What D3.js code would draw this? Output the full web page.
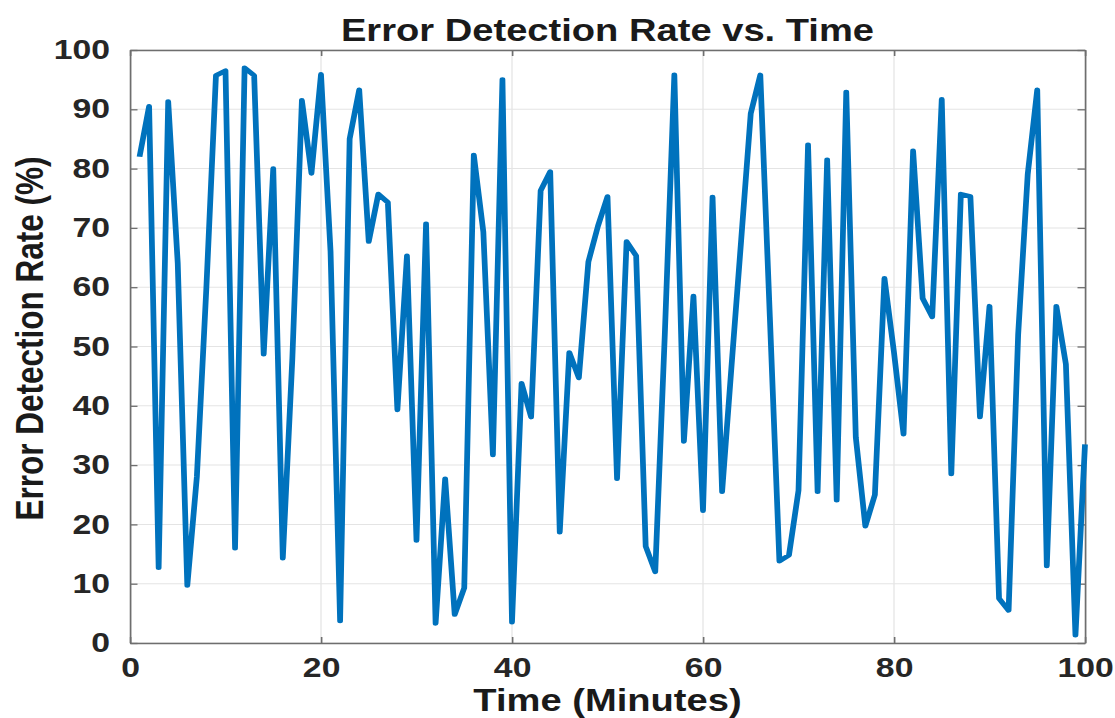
<!DOCTYPE html>
<html>
<head>
<meta charset="utf-8">
<script src="https://cdn.jsdelivr.net/npm/d3@7"></script>
<style>
  body { margin: 0; background: #fff; }
  svg { display: block; }
  text { font-family: "Liberation Sans", Arial, sans-serif; font-weight: bold; }
</style>
</head>
<body>
<div id="chart"></div>
<script>
// x values (minutes)
const minutes = [
  1, 2, 3, 4, 5, 6, 7, 8, 9, 10, 11, 12, 13, 14, 15, 16, 17, 18, 19, 20,
  21, 22, 23, 24, 25, 26, 27, 28, 29, 30, 31, 32, 33, 34, 35, 36, 37, 38, 39, 40,
  41, 42, 43, 44, 45, 46, 47, 48, 49, 50, 51, 52, 53, 54, 55, 56, 57, 58, 59, 60,
  61, 62, 63, 64, 65, 66, 67, 68, 69, 70, 71, 72, 73, 74, 75, 76, 77, 78, 79, 80,
  81, 82, 83, 84, 85, 86, 87, 88, 89, 90, 91, 92, 93, 94, 95, 96, 97, 98, 99, 100
];
// error detection rate (%)
const detectionRate = [
  82, 90.5, 12.7, 91.3, 64, 9.7, 28, 60, 95.7, 96.5,
  16, 97, 95.7, 48.7, 80, 14.3, 48, 91.5, 79.2, 95.9,
  66, 3.7, 85, 93.3, 67.7, 75.7, 74.3, 39.3, 65.3, 17.3,
  70.7, 3.3, 27.7, 4.8, 9.3, 82.3, 69.3, 31.7, 95, 3.5,
  43.8, 38.1, 76.3, 79.5, 18.7, 49, 44.7, 64.3, 70.3, 75.3,
  27.7, 67.7, 65.3, 16.3, 12, 52, 95.8, 34, 58.5, 22.3,
  75.2, 25.5, 47, 68, 89.3, 95.8, 55, 13.8, 14.8, 25.7,
  84, 25.5, 81.5, 24.1, 92.9, 34.7, 19.7, 25, 61.5, 49,
  35.2, 83, 58.1, 55, 91.7, 28.5, 75.7, 75.3, 38.1, 56.8,
  7.5, 5.5, 52, 79, 93.3, 13, 56.8, 47, 1.3, 33.5
];
const xTicks = [0, 20, 40, 60, 80, 100];
const yTicks = [0, 10, 20, 30, 40, 50, 60, 70, 80, 90, 100];

// the reference is stretched sideways, so draw in a narrower box and stretch it
const stretch = 1.25;
const W = 1115 / stretch, H = 718;
const margin = {top: 50, right: 24, bottom: 75, left: 104};
const width = W - margin.left - margin.right;
const height = H - margin.top - margin.bottom;

const svg = d3.select("#chart")
  .append("svg")
  .attr("width", 1115)
  .attr("height", 718)
  .attr("viewBox", "0 0 " + W + " " + H)
  .attr("preserveAspectRatio", "none");

const g = svg.append("g")
  .attr("transform", "translate(" + margin.left + "," + margin.top + ")");

const x = d3.scaleLinear().domain([0, 100]).range([0, width]);
const y = d3.scaleLinear().domain([0, 100]).range([height, 0]);

// grid
g.append("g")
  .selectAll("line")
  .data(yTicks)
  .enter().append("line")
  .attr("x1", 0).attr("x2", width)
  .attr("y1", d => y(d)).attr("y2", d => y(d))
  .attr("stroke", "#e4e4e4").attr("stroke-width", 1);
g.append("g")
  .selectAll("line")
  .data(xTicks)
  .enter().append("line")
  .attr("y1", 0).attr("y2", height)
  .attr("x1", d => x(d)).attr("x2", d => x(d))
  .attr("stroke", "#e4e4e4").attr("stroke-width", 1);

// axes, ticks pointing inwards like MATLAB
const tickLen = 6;
const axisColor = "#6e6e6e";
const labelColor = "#262626";

function styleAxis(sel) {
  sel.select(".domain").attr("stroke", axisColor).attr("stroke-width", 1.3);
  sel.selectAll(".tick line").attr("stroke", axisColor).attr("stroke-width", 1.3);
  sel.selectAll("text")
    .attr("fill", labelColor)
    .style("font-size", "27px")
    .style("font-family", "\"Liberation Sans\", Arial, sans-serif")
    .style("font-weight", "bold");
}

g.append("g")
  .attr("transform", "translate(0," + height + ")")
  .call(d3.axisBottom(x).tickValues(xTicks).tickSizeInner(-tickLen).tickSizeOuter(0).tickPadding(15))
  .call(styleAxis);
g.append("g")
  .call(d3.axisTop(x).tickValues(xTicks).tickSizeInner(-tickLen).tickSizeOuter(0).tickFormat(""))
  .call(styleAxis);
g.append("g")
  .call(d3.axisLeft(y).tickValues(yTicks).tickSizeInner(-tickLen).tickSizeOuter(0).tickPadding(16))
  .call(styleAxis);
g.append("g")
  .attr("transform", "translate(" + width + ",0)")
  .call(d3.axisRight(y).tickValues(yTicks).tickSizeInner(-tickLen).tickSizeOuter(0).tickFormat(""))
  .call(styleAxis);

// data line
const points = minutes.map((m, i) => ({t: m, v: detectionRate[i]}));
const line = d3.line()
  .x(d => x(d.t))
  .y(d => y(d.v));

g.append("path")
  .datum(points)
  .attr("fill", "none")
  .attr("stroke", "#0072BD")
  .attr("stroke-width", 4.6)
  .attr("stroke-linejoin", "round")
  .attr("d", line);

// title and axis labels
g.append("text")
  .attr("x", width / 2)
  .attr("y", -9)
  .attr("text-anchor", "middle")
  .attr("fill", "#1a1a1a")
  .style("font-size", "30.5px")
  .text("Error Detection Rate vs. Time");

g.append("text")
  .attr("x", width / 2)
  .attr("y", height + 68)
  .attr("text-anchor", "middle")
  .attr("fill", "#1a1a1a")
  .style("font-size", "30.5px")
  .text("Time (Minutes)");

g.append("text")
  .attr("transform", "translate(" + (-margin.left + 34) + "," + (height / 2 - 8) + ") rotate(-90)")
  .attr("text-anchor", "middle")
  .attr("fill", "#1a1a1a")
  .style("font-size", "31.5px")
  .text("Error Detection Rate (%)");
</script>
</body>
</html>
